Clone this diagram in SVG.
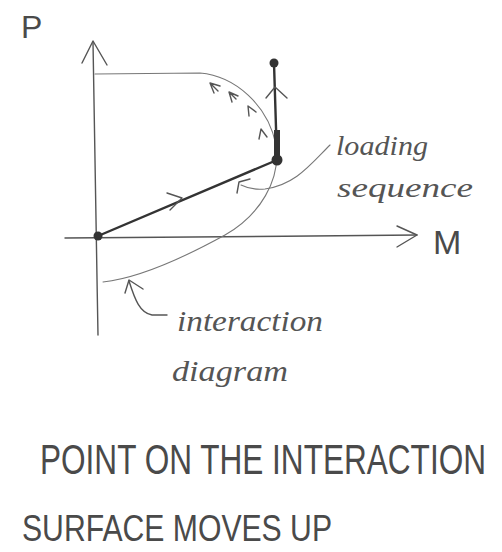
<svg xmlns="http://www.w3.org/2000/svg" width="502" height="552" viewBox="0 0 502 552">
<style>
.ln{fill:none;stroke:#555;stroke-width:1.4;stroke-linecap:round;stroke-linejoin:round}
.thin{fill:none;stroke:#777;stroke-width:1.1;stroke-linecap:round;stroke-linejoin:round}
.dk{fill:none;stroke:#333;stroke-width:2.4;stroke-linecap:round;stroke-linejoin:round}
.dot{fill:#333}
.hw{font-family:"Liberation Sans",Arial,sans-serif;fill:#4a4a4a}
.cur{font-family:"Liberation Serif","Times New Roman",serif;font-style:italic;fill:#555}
</style>
<rect width="502" height="552" fill="#fff"/>
<g id="axes">
<path class="ln" d="M93,42 C95,120 96,230 98,335"/>
<path class="ln" d="M82,63 L93,41 L107,65"/>
<path class="ln" d="M65,238 C180,236 300,237 417,235"/>
<path class="ln" d="M397,226 L417,235 L397,247"/>
</g>
<g id="connectors">
<path id="interaction-curve" class="thin" d="M95,74 L200,73 C235,76 268,105 276,145 C281,180 260,215 225,235 C185,257 140,278 103,282"/>
<path class="ln" d="M220,86 L210,83 L214,93 M211,84 L218,91"/>
<path class="ln" d="M238,96 L229,92 L232,102 M230,93 L236,99"/>
<path class="ln" d="M256,112 L248,106 L249,116"/>
<path class="ln" d="M267,137 L261,129 L259,139"/>
<path id="loading-path" class="dk" d="M98,236 L277,160"/>
<path class="ln" d="M167,193 L182,198 L170,210"/>
<path class="dk" d="M277,160 L274,63"/>
<path d="M274,130 L280,130 L280,160 L274,160 Z" fill="#333"/>
<path class="ln" d="M266,98 L275,87 L287,98"/>
<path id="loading-leader" class="thin" d="M330,145 C310,165 295,185 265,189 C255,190 247,188 241,185"/>
<path class="ln" d="M237,193 L239,182 L250,179"/>
<path id="interaction-leader" class="ln" d="M167,315 L152,315 C140,313 135,300 129,281"/>
<path class="ln" d="M125,293 L129,280 L143,289"/>
</g>
<g id="origin"><circle class="dot" cx="98" cy="236" r="4.5"/></g>
<g id="load-point"><circle class="dot" cx="277" cy="160" r="5.5"/></g>
<g id="top-point"><circle class="dot" cx="274" cy="63" r="4.5"/></g>
<g id="labels">
<text class="hw" x="21" y="38" font-size="32">P</text>
<text class="hw" x="433" y="254" font-size="34">M</text>
<text class="cur" x="336" y="155" font-size="28" textLength="92" lengthAdjust="spacingAndGlyphs">loading</text>
<text class="cur" x="337" y="197" font-size="28" textLength="136" lengthAdjust="spacingAndGlyphs">sequence</text>
<text class="cur" x="177" y="331" font-size="30" textLength="146" lengthAdjust="spacingAndGlyphs">interaction</text>
<text class="cur" x="172" y="381" font-size="30" textLength="116" lengthAdjust="spacingAndGlyphs">diagram</text>
<text class="hw" transform="translate(40,474) scale(1,1.35)" x="0" y="0" font-size="31" textLength="446" lengthAdjust="spacingAndGlyphs">POINT ON THE INTERACTION</text>
<text class="hw" x="22" y="541" font-size="36" textLength="310" lengthAdjust="spacingAndGlyphs">SURFACE MOVES UP</text>
</g>
</svg>
